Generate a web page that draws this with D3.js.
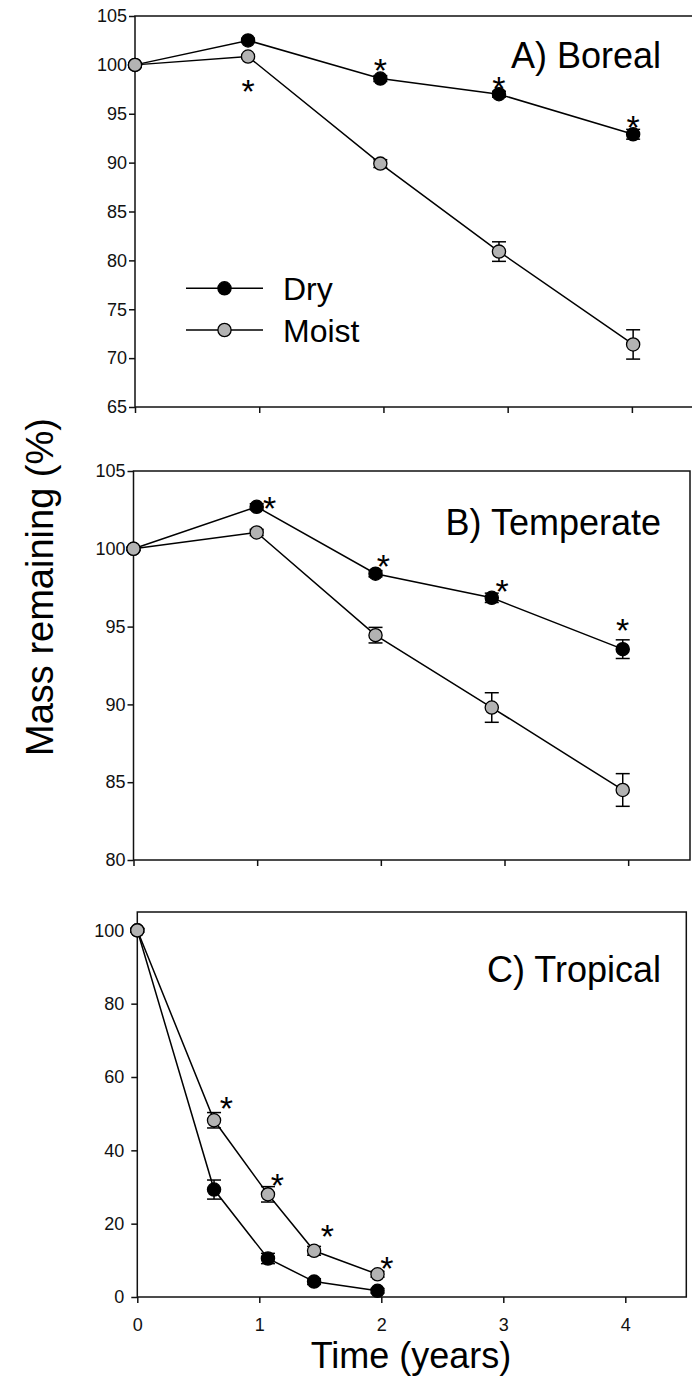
<!DOCTYPE html>
<html>
<head>
  <meta charset="utf-8">
  <title>Mass remaining</title>
  <style>
    body { margin: 0; background: white; }
    svg { display: block; font-family: "Liberation Sans", Arial, sans-serif; }
    .frame { fill: none; stroke: #111; stroke-width: 1.5px; }
    .series-line { fill: none; stroke: #000; stroke-width: 1.5px; }
    .err { stroke: #000; stroke-width: 1.5px; }
    .dot { stroke: #000; stroke-width: 1.3px; }
    .dry { fill: #000; }
    .moist { fill: #b3b3b3; }
    .axis line { stroke: #111; stroke-width: 1.5px; }
    .axis text { font-family: "Liberation Sans", Arial, sans-serif; font-size: 18px; fill: #111; }
    .star { font-size: 34px; text-anchor: middle; }
  </style>
</head>
<body>
  <div id="chart"></div>

  <script src="https://d3js.org/d3.v7.min.js"></script>
  <script>
    // A) Boreal
    const borealT = [0, 0.91, 1.975, 2.93, 4.01];
    const borealDry = [100, 102.5, 98.6, 97.0, 92.9];
    const borealDryErr = [0.2, 0.2, 0.3, 0.3, 0.5];
    const borealMoist = [100, 100.85, 89.9, 80.9, 71.4];
    const borealMoistErr = [0.2, 0.2, 0.4, 1.0, 1.5];
    const borealStarT = [0.91, 1.975, 2.93, 4.01];
    const borealStarV = [98.1, 100.3, 98.45, 94.4];

    // B) Temperate
    const temperateT = [0, 0.996, 1.957, 2.897, 3.956];
    const temperateDry = [100, 102.7, 98.4, 96.85, 93.55];
    const temperateDryErr = [0.1, 0.2, 0.2, 0.3, 0.6];
    const temperateMoist = [100, 101.05, 94.45, 89.8, 84.5];
    const temperateMoistErr = [0.1, 0.2, 0.5, 0.95, 1.05];
    const temperateStarT = [1.10, 2.02, 2.98, 3.956];
    const temperateStarV = [103.1, 99.4, 97.8, 95.3];

    // C) Tropical
    const tropicalT = [0, 0.629, 1.071, 1.449, 1.969];
    const tropicalDry = [100, 29.3, 10.5, 4.2, 1.7];
    const tropicalDryErr = [0.5, 2.6, 1.4, 0.8, 0.6];
    const tropicalMoist = [100, 48.2, 28.0, 12.6, 6.2];
    const tropicalMoistErr = [0.5, 2.1, 2.1, 1.2, 0.8];
    const tropicalStarT = [0.731, 1.148, 1.557, 2.046];
    const tropicalStarV = [53.7, 32.6, 18.7, 9.9];

    const xTicks = [0, 1, 2, 3, 4];
    const legendLabels = ["Dry", "Moist"];

    const width = 692, height = 1380;
    const svg = d3.select("#chart")
      .append("svg")
      .attr("width", width)
      .attr("height", height);

    const panels = [
      { label: "A) Boreal", t: borealT, dry: borealDry, dryErr: borealDryErr,
        moist: borealMoist, moistErr: borealMoistErr, starT: borealStarT, starV: borealStarV,
        left: 135, right: 694, top: 16, bottom: 407, yDomain: [65, 105], yTicks: d3.range(65, 106, 5),
        xLabels: false, yPad: 2, labelY: 68, legend: true },
      { label: "B) Temperate", t: temperateT, dry: temperateDry, dryErr: temperateDryErr,
        moist: temperateMoist, moistErr: temperateMoistErr, starT: temperateStarT, starV: temperateStarV,
        left: 133.5, right: 690, top: 471, bottom: 860, yDomain: [80, 105], yTicks: d3.range(80, 106, 5),
        xLabels: false, yPad: 2, labelY: 535, legend: false },
      { label: "C) Tropical", t: tropicalT, dry: tropicalDry, dryErr: tropicalDryErr,
        moist: tropicalMoist, moistErr: tropicalMoistErr, starT: tropicalStarT, starV: tropicalStarV,
        left: 137.3, right: 686.3, top: 912, bottom: 1297, yDomain: [0, 105], yTicks: d3.range(0, 101, 20),
        xLabels: true, yPad: 7, labelY: 982, legend: false }
    ];

    const dotR = 6.6;
    const capW = 7;

    panels.forEach(drawPanel);

    function drawPanel(p) {
      const x = d3.scaleLinear().domain([0, 4.5]).range([p.left, p.right]);
      const y = d3.scaleLinear().domain(p.yDomain).range([p.bottom, p.top]);
      const g = svg.append("g");

      // axes (ticks only, frame drawn separately)
      const yAxis = g.append("g")
        .attr("class", "axis")
        .attr("transform", "translate(" + p.left + ",0)")
        .call(d3.axisLeft(y).tickValues(p.yTicks).tickSize(6).tickPadding(p.yPad));
      yAxis.select(".domain").remove();

      const xAxis = g.append("g")
        .attr("class", "axis")
        .attr("transform", "translate(0," + p.bottom + ")")
        .call(d3.axisBottom(x).tickValues(xTicks).tickSize(6).tickPadding(15)
          .tickFormat(p.xLabels ? d3.format("d") : ""));
      xAxis.select(".domain").remove();

      g.append("rect")
        .attr("class", "frame")
        .attr("x", p.left)
        .attr("y", p.top)
        .attr("width", p.right - p.left)
        .attr("height", p.bottom - p.top);

      const dryPts = p.t.map((t, i) => ({ t: t, v: p.dry[i], e: p.dryErr[i] }));
      const moistPts = p.t.map((t, i) => ({ t: t, v: p.moist[i], e: p.moistErr[i] }));

      const line = d3.line().x(d => x(d.t)).y(d => y(d.v));
      g.append("path").datum(dryPts).attr("class", "series-line").attr("d", line);
      g.append("path").datum(moistPts).attr("class", "series-line").attr("d", line);

      [dryPts, moistPts].forEach(pts => {
        const eb = g.append("g").selectAll("g").data(pts).enter().append("g");
        eb.append("line").attr("class", "err")
          .attr("x1", d => x(d.t)).attr("x2", d => x(d.t))
          .attr("y1", d => y(d.v - d.e)).attr("y2", d => y(d.v + d.e));
        eb.append("line").attr("class", "err")
          .attr("x1", d => x(d.t) - capW).attr("x2", d => x(d.t) + capW)
          .attr("y1", d => y(d.v + d.e)).attr("y2", d => y(d.v + d.e));
        eb.append("line").attr("class", "err")
          .attr("x1", d => x(d.t) - capW).attr("x2", d => x(d.t) + capW)
          .attr("y1", d => y(d.v - d.e)).attr("y2", d => y(d.v - d.e));
      });

      g.append("g").selectAll("circle").data(dryPts).enter().append("circle")
        .attr("class", "dot dry")
        .attr("cx", d => x(d.t)).attr("cy", d => y(d.v)).attr("r", dotR);
      g.append("g").selectAll("circle").data(moistPts).enter().append("circle")
        .attr("class", "dot moist")
        .attr("cx", d => x(d.t)).attr("cy", d => y(d.v)).attr("r", dotR);

      // significance stars, glyph centre on the value
      g.append("g").selectAll("text").data(p.starT.map((t, i) => ({ t: t, v: p.starV[i] })))
        .enter().append("text")
        .attr("class", "star")
        .attr("x", d => x(d.t))
        .attr("y", d => y(d.v) + 34 * 0.58)
        .text("*");

      g.append("text")
        .attr("x", 661)
        .attr("y", p.labelY)
        .attr("text-anchor", "end")
        .attr("font-size", 36)
        .text(p.label);

      if (p.legend) {
        const leg = g.append("g").selectAll("g").data(legendLabels).enter().append("g")
          .attr("transform", (d, i) => "translate(0," + (288.3 + i * 41.7) + ")");
        leg.append("line").attr("class", "series-line")
          .attr("x1", 186).attr("x2", 263).attr("y1", 0).attr("y2", 0);
        leg.append("circle")
          .attr("class", (d, i) => "dot " + (i === 0 ? "dry" : "moist"))
          .attr("cx", 224.5).attr("cy", 0).attr("r", dotR);
        leg.append("text")
          .attr("x", 283).attr("y", 11.7)
          .attr("font-size", 32)
          .text(d => d);
      }
    }

    svg.append("text")
      .attr("transform", "translate(53,587) rotate(-90)")
      .attr("text-anchor", "middle")
      .attr("font-size", 38)
      .text("Mass remaining (%)");

    svg.append("text")
      .attr("x", 411)
      .attr("y", 1368)
      .attr("text-anchor", "middle")
      .attr("font-size", 36)
      .text("Time (years)");
  </script>
</body>
</html>
